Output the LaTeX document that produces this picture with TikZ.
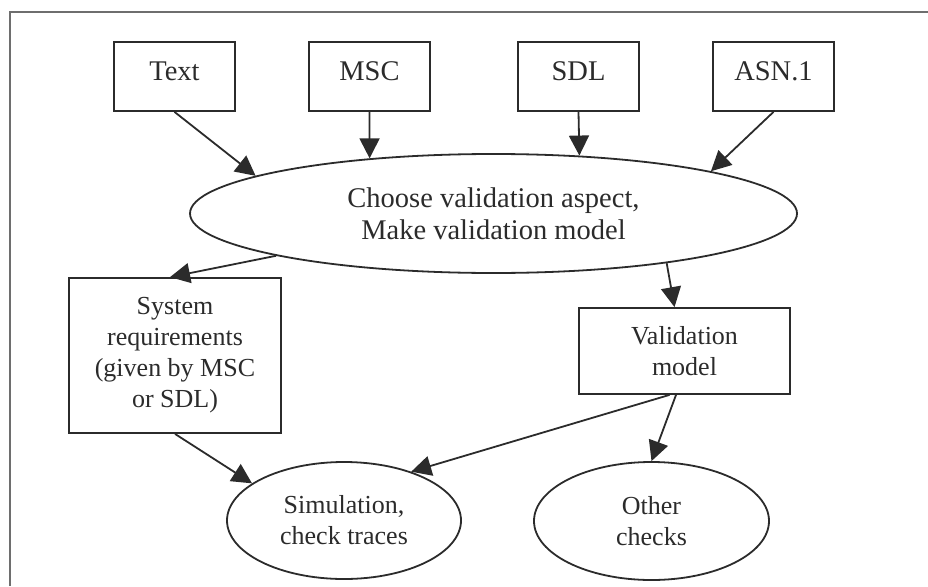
\documentclass[tikz,border=0pt]{standalone}
\usepackage{fontspec}
\setmainfont{Liberation Serif}
\usetikzlibrary{shapes.geometric,arrows.meta,calc}
\definecolor{ink}{HTML}{2B2B2B}
\definecolor{framegray}{HTML}{6E6E6E}
\begin{document}
\begin{tikzpicture}[x=1pt,y=-1pt,
  every node/.style={font=\fontsize{26}{31}\selectfont, text=ink},
  bigtext/.style={font=\fontsize{28.5}{32.5}\selectfont},
  srcbox/.style={draw=ink, line width=1.8pt, rectangle, minimum width=121pt, minimum height=69pt, inner sep=0pt, bigtext, text height=20pt, text depth=11pt},
  procbox/.style={draw=ink, line width=1.8pt, rectangle, inner sep=0pt, align=center},
  oval/.style={draw=ink, line width=1.8pt, ellipse, inner sep=0pt, align=center},
  flow/.style={draw=ink, line width=1.8pt, -{Triangle[length=20pt,width=20pt]}}
]
\useasboundingbox (0,0) rectangle (928,586);
\draw[framegray, line width=1.5pt] (10,586) -- (10,12) -- (928,12);

\node[srcbox] (text) at (174.5,76.5) {Text};
\node[srcbox] (msc) at (369.5,76.5) {MSC};
\node[srcbox] (sdl) at (578.5,76.5) {SDL};
\node[srcbox] (asn) at (773.5,76.5) {ASN.1};
\node[oval, bigtext, minimum width=607pt, minimum height=119pt] (choose) at (493.5,213.5) {Choose validation aspect,\\Make validation model};
\node[procbox, minimum width=212pt, minimum height=155pt] (sysreq) at (175,355.5) {System\\requirements\\(given by MSC\\or SDL)};
\node[procbox, minimum width=211pt, minimum height=86pt] (valmodel) at (684.5,351) {Validation\\model};
\node[oval, minimum width=234pt, minimum height=117pt] (sim) at (344,520.5) {Simulation,\\check traces};
\node[oval, minimum width=235pt, minimum height=118pt] (other) at (651.5,521) {Other\\checks};

\draw[flow] (text.south) -- (choose.171.5);
\draw[flow] (msc.south) -- (choose.156.25);
\draw[flow] (sdl.south) -- (choose.34.07);
\draw[flow] (asn.south) -- (choose.11.16);
\draw[flow] (choose.191.94) -- ([xshift=-5pt]sysreq.north);
\draw[flow] (choose.-16.9) -- ([xshift=-10pt]valmodel.north);
\draw[flow] ([xshift=-15pt]valmodel.south) -- (sim.36.3);
\draw[flow] ([xshift=-8.5pt]valmodel.south) -- (other.north);
\draw[flow] (sysreq.south) -- (sim.158.8);
\end{tikzpicture}
\end{document}
